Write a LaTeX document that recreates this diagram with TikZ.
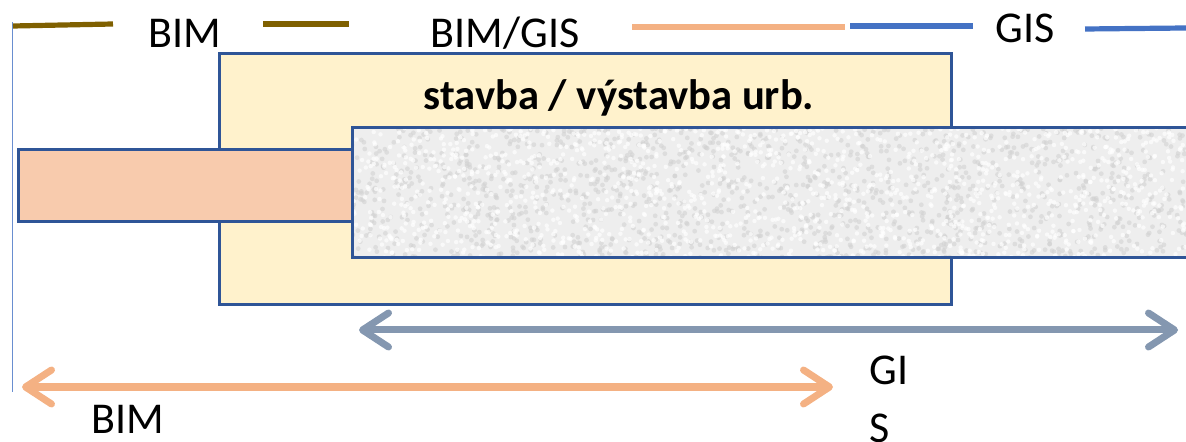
\documentclass[tikz,border=0pt]{standalone}
\usepackage{fontspec}
\setmainfont{Carlito}
\usetikzlibrary{arrows.meta}
\definecolor{bimOlive}{RGB}{127,96,0}
\definecolor{gisBlue}{RGB}{68,114,196}
\definecolor{peach}{RGB}{244,177,131}
\definecolor{peachFill}{RGB}{248,203,173}
\definecolor{creamFill}{RGB}{255,242,204}
\definecolor{frameBlue}{RGB}{47,85,151}
\definecolor{slate}{RGB}{132,151,176}
\definecolor{stoneFill}{RGB}{238,238,238}
\tikzset{barb/.tip={Straight Barb[length=13pt,width=17pt,line cap=round,line join=round]}}

\begin{document}
\begin{tikzpicture}[x=0.5pt,y=0.5pt,yscale=-1,xscale=1,
  lbl/.style={inner sep=0pt,anchor=base,font=\fontsize{22}{26}\selectfont},
  legend/.style={line width=2.6pt},
  box/.style={draw=frameBlue,line width=1.5pt},
  span/.style={line width=3.5pt,line cap=round,barb-barb}]
\useasboundingbox (0,0) rectangle (1186,442);

%thin left margin line
\draw [gisBlue!80,line width=0.5pt] (12,22) -- (12,392);

%legend strokes along the top
\draw [legend,bimOlive] (13,26) -- (113,24);
\draw [legend,bimOlive] (263,24) -- (349,24);
\draw [legend,peach] (632,27) -- (845,27);
\draw [legend,gisBlue] (850,26) -- (973,26);
\draw [legend,gisBlue] (1085,29) -- (1186,28);

% Text Node
\node [lbl] (bimTop) at (185,48) {BIM};
% Text Node
\node [lbl] (bimGis) at (505,48) {BIM/GIS};
% Text Node
\node [lbl] (gisTop) at (1025,43) {GIS};

%Shape: Rectangle (construction area)
\draw [box,fill=creamFill] (219,54) rectangle (951,305);
%Shape: Rectangle (BIM band)
\draw [box,fill=peachFill] (18,150) rectangle (352,222);
%Shape: Rectangle (GIS band), stone grain
\fill [stoneFill] (352,128) rectangle (1192,258);
\begin{scope}
  \clip (352,128) rectangle (1192,258);
  \pgfmathsetseed{7}
  \foreach \i in {1,...,1400}
    \fill [gray!35,opacity=0.6] (352+840*rnd,128+130*rnd) circle (1.2pt);
  \foreach \i in {1,...,1400}
    \fill [white,opacity=0.7] (352+840*rnd,128+130*rnd) circle (1.1pt);
\end{scope}
\draw [box] (352,128) rectangle (1192,258);

% Text Node
\node [lbl,font=\fontsize{21.3}{25}\selectfont\bfseries] (stavba) at (619,110) {stavba / výstavba urb.};

%range arrows
\coordinate (gisL) at (359,330);
\coordinate (gisR) at (1178,330);
\draw [span,slate] (gisL) -- (gisR);
\coordinate (bimL) at (22,387);
\coordinate (bimR) at (833,387);
\draw [span,peach] (bimL) -- (bimR);

% Text Node
\node [lbl,anchor=base west] (gisLow) at (869,385) {GI};
% Text Node
\node [lbl,anchor=base west] (gisLowS) at (869,442) {S};
% Text Node
\node [lbl] (bimLow) at (128,433) {BIM};

\end{tikzpicture}
\end{document}
